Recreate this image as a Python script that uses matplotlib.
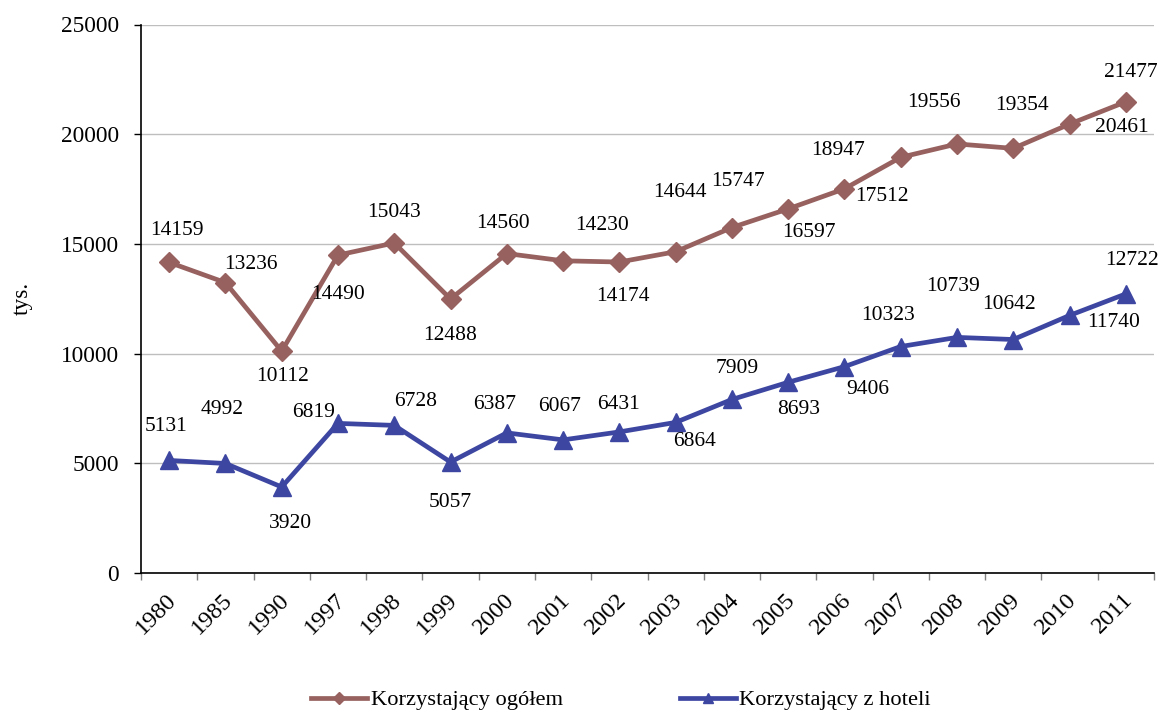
import matplotlib
matplotlib.use("Agg")
import matplotlib.pyplot as plt
import numpy as np

plt.rcParams['font.family'] = ['Liberation Serif', 'DejaVu Serif']

years = ["1980", "1985", "1990", "1997", "1998", "1999", "2000", "2001", "2002",
         "2003", "2004", "2005", "2006", "2007", "2008", "2009", "2010", "2011"]
ogolem = [14159, 13236, 10112, 14490, 15043, 12488, 14560, 14230, 14174,
          14644, 15747, 16597, 17512, 18947, 19556, 19354, 20461, 21477]
hotele = [5131, 4992, 3920, 6819, 6728, 5057, 6387, 6067, 6431,
          6864, 7909, 8693, 9406, 10323, 10739, 10642, 11740, 12722]

name_ogolem = "Korzystający ogółem"
name_hotele = "Korzystający z hoteli"
y_label = "tys."

# label offsets in pixels (dx right, dy down as in image)
off_ogolem = [(8, -32), (26, -18), (1, 25), (0, 39), (0, -30), (0, 36), (-4, -30),
              (39, -35), (4, 34), (4, -59), (6, -46), (21, 24), (37, 8), (-63, -7),
              (-23, -41), (9, -43), (52, 3), (5, -29)]
off_hotele = [(-3, -34), (-3, -54), (9, 37), (-24, -11), (21, -24), (0, 40), (-12, -28),
              (-4, -33), (-1, -27), (19, 19), (5, -31), (10, 27), (23, 23), (-13, -31),
              (-4, -51), (-4, -35), (44, 7), (6, -33)]

c_og = "#97615F"
c_ho = "#3D47A2"

fig = plt.figure(figsize=(11.6, 7.14), dpi=100)
ax = fig.add_axes([141/1160, 1-573/714, (1154-141)/1160, (573-24.5)/714])

x = np.arange(len(years))
ax.plot(x, ogolem, color=c_og, lw=3.4, marker='D', ms=10.5, label=name_ogolem, zorder=3)
ax.plot(x, hotele, color=c_ho, lw=3.4, marker='^', ms=12.5, label=name_hotele, zorder=3)

for xi, v, (dx, dy) in zip(x, ogolem, off_ogolem):
    ax.annotate(str(v), (xi, v), xytext=(dx, -dy), textcoords='offset pixels',
                ha='center', va='center', fontsize=15.5, annotation_clip=False)
for xi, v, (dx, dy) in zip(x, hotele, off_hotele):
    ax.annotate(str(v), (xi, v), xytext=(dx, -dy), textcoords='offset pixels',
                ha='center', va='center', fontsize=15.5, annotation_clip=False)

ax.set_xlim(-0.5, len(years) - 0.5)
ax.set_ylim(0, 25000)
ax.set_yticks(np.arange(0, 25001, 5000))
ax.tick_params(axis='y', labelsize=16.8, length=5, width=1, direction='out', pad=11)
ax.yaxis.grid(True, color='#BEBEBE', lw=1)
ax.set_axisbelow(True)

ax.set_xticks(np.arange(-0.5, len(years), 1.0))
ax.set_xticklabels([])
ax.tick_params(axis='x', which='major', length=5, width=1, direction='out', color='#808080')
ax.set_xticks(x, minor=True)
ax.set_xticklabels(years, minor=True, rotation=45, ha='right', va='center',
                   rotation_mode='anchor', fontsize=17.5)
ax.tick_params(axis='x', which='minor', length=0, pad=17)
for lbl in ax.xaxis.get_minorticklabels():
    lbl.set_x(lbl.get_position()[0])
from matplotlib.transforms import ScaledTranslation
shift = ScaledTranslation(4/100, 0, fig.dpi_scale_trans)
for lbl in ax.xaxis.get_minorticklabels():
    lbl.set_transform(lbl.get_transform() + shift)

for s in ['top', 'right']:
    ax.spines[s].set_visible(False)
ax.spines['left'].set_linewidth(1.2)
ax.spines['bottom'].set_linewidth(1.2)

fig.text(22/1160, 1-298/714, y_label, rotation=90, ha='center', va='center', fontsize=16.8)

fig.legend(loc='center', bbox_to_anchor=(621/1160, 1-700/714), ncol=2, frameon=False,
           fontsize=16.2, handlelength=2.5, handletextpad=0.15, columnspacing=5.2,
           markerscale=0.6)

fig.savefig("out.png", dpi=100)
